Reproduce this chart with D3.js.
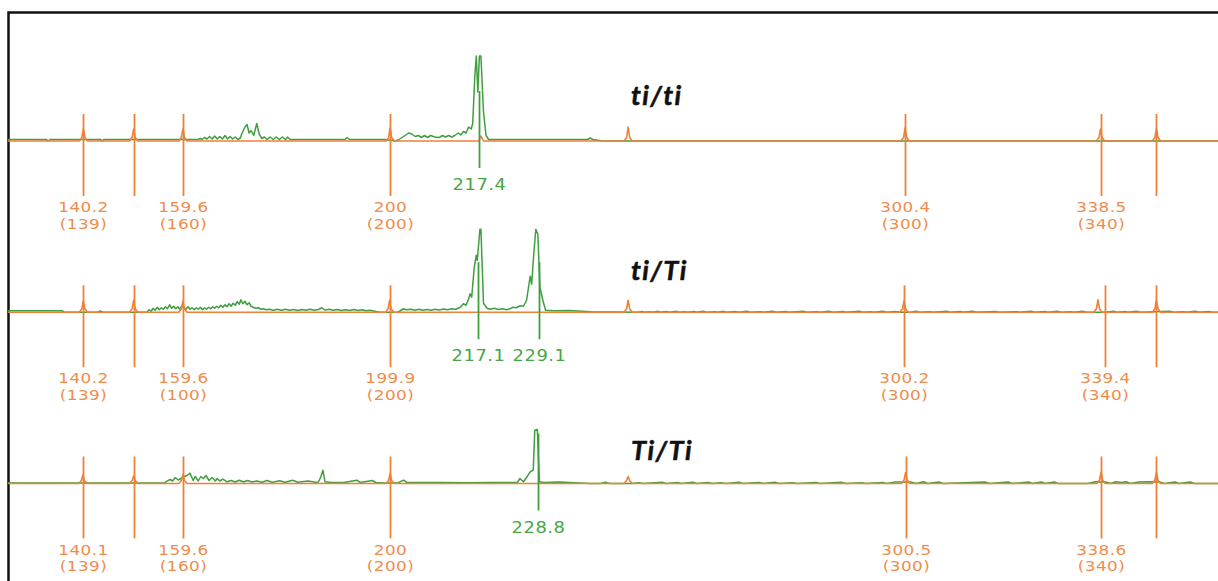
<!DOCTYPE html>
<html><head><meta charset="utf-8">
<script src="https://cdn.jsdelivr.net/npm/d3@7"></script>
<style>body{margin:0;background:#fff;} svg{display:block}</style>
</head><body>
<svg id="chart" width="1218" height="581"></svg>
<script>
// ---------- data ----------
const genotypes = ["ti/ti", "ti/Ti", "Ti/Ti"];

// size-standard (orange) peaks: called size and nominal size (null = unlabeled)
const ladderSizes1 = [140.2, 150, 159.6, 200, 300.4, 338.5, 349.4];
const ladderNominal1 = ["139", null, "160", "200", "300", "340", null];
const ladderSizes2 = [140.2, 150, 159.6, 199.9, 300.2, 339.4, 349.4];
const ladderNominal2 = ["139", null, "100", "200", "300", "340", null];
const ladderSizes3 = [140.1, 150, 159.6, 200, 300.5, 338.6, 349.4];
const ladderNominal3 = ["139", null, "160", "200", "300", "340", null];

// called sample (green) peaks
const calledSizes1 = [217.4];
const calledSizes2 = [217.1, 229.1];
const calledSizes3 = [228.8];

// green (sample) traces: [size bp, RFU]
const green1 = [[125.5,15],[133,15],[133.3,0],[133.7,15],[143.6,15],[143.9,0],[144.2,15],[162.5,15],
 [163,25],[163.3,15],[163.8,35],[164.3,20],[164.8,45],[165.3,20],[165.8,50],[166.3,20],[166.8,45],[167.3,20],
 [167.8,55],[168.3,20],[168.8,45],[169.3,20],[169.8,40],[170.3,15],[170.8,30],[171.1,75],[171.7,140],[172.1,165],
 [172.5,80],[172.9,105],[173.4,55],[174.0,175],[174.5,65],[175.0,25],[175.5,40],[176,15],[176.6,40],[177.2,15],
 [177.8,40],[178.4,15],[179,40],[179.6,15],[180.0,40],[180.5,15],[191.2,15],[191.6,35],[192.1,15],[199,15],
 [201,0],[201.6,10],[202.6,45],[203.6,80],[204.2,70],[204.9,45],[205.5,55],[206.1,35],[206.7,55],[207.3,35],
 [207.9,55],[208.7,40],[209.6,35],[210.2,55],[210.8,40],[211.4,55],[212,40],[212.6,55],[213.3,80],[213.8,60],
 [214.3,95],[214.8,80],[215.3,140],[215.8,120],[216.1,175],[216.5,640],[216.8,850],[217.1,490],[217.4,850],
 [217.7,850],[218.2,290],[218.7,55],[219.2,15],[230,15],[238.5,15],[239,30],[239.5,15],[241.5,0],[361.5,0]];

const green2 = [[125.5,15],[136,15],[136.5,0],[143,0],[143.5,12],[144,0],[152.5,0],
 [153,25],[153.4,10],[153.8,40],[154.2,20],[154.6,50],[155,25],[155.4,45],[155.8,30],[156.2,55],[156.6,35],
 [157,75],[157.4,40],[157.8,60],[158.2,35],[158.6,55],[159,30],[159.4,60],[159.8,45],[160.2,30],[160.6,55],
 [161,30],[161.4,45],[161.8,25],[162.2,45],[162.6,30],[163,50],[163.4,25],[163.8,45],[164.2,30],[164.6,50],
 [165,35],[165.4,55],[165.8,40],[166.2,60],[166.6,45],[167,70],[167.4,50],[167.8,75],[168.2,55],[168.6,85],
 [169,60],[169.4,90],[169.8,70],[170.2,105],[170.6,80],[170.9,125],[171.3,85],[171.7,110],[172.1,75],[172.5,95],
 [172.9,60],[173.3,50],[173.8,40],[174.3,45],[174.8,30],[175.3,35],[175.8,25],[176.5,30],[177.2,20],[178,30],
 [178.8,20],[179.6,30],[180.4,20],[181.2,28],[182,18],[182.8,28],[183.6,20],[184.4,30],[185.2,20],[186,28],
 [186.7,45],[187.3,22],[188.1,30],[188.9,20],[189.7,28],[190.5,18],[191.3,25],[192.1,18],[192.9,28],[193.7,18],
 [194.5,25],[195.3,15],[196.1,20],[197,10],[198,0],[201.5,0],[202,15],[202.6,35],[203.2,25],[204,30],[204.8,20],
 [205.6,30],[206.4,20],[207.2,28],[208,20],[208.8,30],[209.6,22],[210.4,32],[211.2,25],[212,35],[212.8,30],
 [213.7,50],[214.3,85],[214.8,70],[215.3,135],[215.6,185],[215.9,150],[216.4,450],[216.8,570],[217.0,520],
 [217.5,830],[217.7,830],[218.2,90],[218.9,40],[219.5,30],[220.3,40],[221.1,28],[221.9,35],[222.7,25],[223.5,38],
 [223.9,50],[224.6,45],[225.3,65],[226,60],[226.6,120],[227.3,360],[227.6,280],[228.0,580],[228.4,830],[228.8,780],
 [229.2,250],[229.8,115],[230.3,20],[232,15],[235,18],[239,5],
 [248.5,0],[249,9],[249.6,0],[250.5,6],[251.2,0],[252.2,9],[252.8,0],[253.8,7],[254.5,0],[255.9,9],[256.3,0],
 [257.4,6],[258,0],[259.3,8],[259.8,0],[261,9],[261.7,0],[263.4,6],[263.8,0],[265,9],[265.6,0],[267.2,7],[268,0],
 [269.5,9],[270.2,0],[272.3,6],[272.8,0],[274.5,9],[275.3,0],[277.1,7],[277.8,0],[280.5,9],[281.3,0],[283.2,6],
 [283.8,0],[285.5,9],[286.4,0],[288.3,7],[288.8,0],[291.5,9],[292.2,0],[293.7,6],[294.3,0],[296,9],[296.8,0],
 [298.5,7],[299.5,0],[301.5,0],[302.5,9],[303.2,0],[305.3,6],[305.8,0],[308.5,9],[309.2,0],[311.2,7],[311.7,0],
 [313.5,9],[314.4,0],[318,8],[318.8,0],[322.2,6],[322.7,0],[325,9],[325.7,0],[327.7,7],[328.2,0],[330,9],
 [330.8,0],[332.7,6],[333.3,0],[335,9],[335.8,0],[339.5,0],[341,9],[341.7,0],[343.3,7],[343.8,0],[345.5,9],
 [346.3,0],[352,9],[352.8,0],[354.7,6],[355.2,0],[357,9],[357.8,0],[359.6,7],[360.2,0],[361.5,0]];

const green3 = [[125.5,5],[156,5],[156.5,23],[157.1,40],[157.6,25],[158.1,60],[158.7,35],[159.2,50],[159.7,65],
 [160.4,80],[161.0,103],[161.6,30],[162.0,70],[162.6,25],[163.1,70],[163.6,50],[164.1,80],[164.7,30],[165.3,60],
 [165.9,25],[166.3,50],[166.8,25],[167.4,43],[168.2,17],[169,30],[169.8,15],[170.6,33],[171.4,15],[172.2,30],
 [173,15],[174,25],[175,12],[176,30],[177,12],[178.5,28],[179.5,12],[181,33],[182,12],[184,25],[185.5,12],
 [186,15],[186.5,67],[186.9,133],[187.3,17],[188.5,10],[191,10],[193.5,33],[194.2,10],[196.5,30],[197.2,10],
 [199,5],[201.5,5],[202.6,33],[203.3,10],[210,10],[215,8],[220,10],[224.8,10],[225.3,50],[226,18],[226.6,60],
 [227.3,116],[227.9,133],[228.2,533],[228.7,540],[229.1,17],[230,10],[233,15],[235,10],[239,0],
 [241,0],[242,12],[242.8,0],[247,0],[248.5,8],[249.5,0],[253,12],[253.8,0],[256,10],[256.8,0],[259,12],[259.8,0],
 [262,10],[262.8,0],[264.5,8],[265.5,0],[268,12],[268.8,0],[272,10],[272.8,0],[275,12],[275.8,0],[278.5,8],
 [279.3,0],[283,10],[283.8,0],[288,12],[288.8,0],[292,8],[292.8,0],[296,10],[296.8,0],[298.5,15],[301.5,15],
 [302.5,0],[304,18],[304.8,0],[307,15],[307.8,0],[316,15],[316.8,0],[320.5,15],[321.2,0],[324.5,15],[325.2,0],
 [327,15],[327.7,0],[329.5,15],[330.2,0],[336,0],[337.5,18],[339.5,15],[340.5,0],[341.5,18],[342.5,10],
 [343.5,18],[344.3,0],[346,15],[348,18],[350,15],[351,0],[353,15],[353.8,0],[356,15],[356.8,0],[361.5,0]];

// orange (size standard) traces: [size bp, RFU]
const orange1 = [[125.5,0],[139.4,0],[139.9,35],[140.2,120],[140.5,35],[141,0],[149.2,0],[149.7,35],[150,120],
 [150.3,35],[150.8,0],[158.8,0],[159.3,35],[159.6,120],[159.9,35],[160.4,0],[199.2,0],[199.7,35],[200,130],
 [200.3,35],[200.8,0],[217.3,0],[217.7,50],[218.2,0],[245.6,0],[246.1,35],[246.4,140],[246.7,35],[247.2,0],
 [299.6,0],[300.1,35],[300.4,130],[300.7,35],[301.2,0],[337.7,0],[338.2,35],[338.5,120],[338.8,35],[339.3,0],
 [348.6,0],[349.1,35],[349.4,125],[349.7,35],[350.2,0],[361.5,0]];
const orange2 = [[125.5,0],[139.4,0],[139.9,35],[140.2,110],[140.5,35],[141,0],[149.2,0],[149.7,35],[150,120],
 [150.3,35],[150.8,0],[158.8,0],[159.3,35],[159.6,110],[159.9,35],[160.4,0],[199.1,0],[199.6,35],[199.9,120],
 [200.2,35],[200.7,0],[245.6,0],[246.1,35],[246.4,120],[246.7,35],[247.2,0],[299.4,0],[299.9,35],[300.2,115],
 [300.5,35],[301,0],[337.2,0],[337.7,35],[338.0,125],[338.3,35],[338.8,0],[348.6,0],[349.1,35],[349.4,120],
 [349.7,35],[350.2,0],[361.5,0]];
const orange3 = [[125.5,0],[139.3,0],[139.8,30],[140.1,85],[140.4,30],[140.9,0],[149.2,0],[149.7,30],[150,75],
 [150.3,30],[150.8,0],[158.8,0],[159.3,30],[159.6,90],[159.9,30],[160.4,0],[199.2,0],[199.7,30],[200,100],
 [200.3,30],[200.8,0],[245.6,0],[246.1,30],[246.4,70],[246.7,30],[247.2,0],[299.7,0],[300.2,35],[300.5,110],
 [300.8,35],[301.3,0],[337.8,0],[338.3,35],[338.6,115],[338.9,35],[339.4,0],[348.6,0],[349.1,35],[349.4,110],
 [349.7,35],[350.2,0],[361.5,0]];

// ---------- build ----------
const panels = [
  {title: genotypes[0], green: green1, orange: orange1, ladder: ladderSizes1, nominal: ladderNominal1, called: calledSizes1},
  {title: genotypes[1], green: green2, orange: orange2, ladder: ladderSizes2, nominal: ladderNominal2, called: calledSizes2},
  {title: genotypes[2], green: green3, orange: orange3, ladder: ladderSizes3, nominal: ladderNominal3, called: calledSizes3}
];
const titleOffsets = [-36, -32.5, -24];   // layout only

const ORANGE = "#ee8136", ORANGE_TXT = "#ef8c4c", GREEN = "#3f9f3f", GREEN_TXT = "#45a645";
const svg = d3.select("#chart");

const x = d3.scaleLinear().domain([125.5, 361.4]).range([8, 1218]);
const yBase = d3.scaleLinear().domain([0, 2]).range([141, 483.5]);
const yRfu = d3.scaleLinear().domain([0, 1000]).range([0, -100]);

// frame
svg.append("rect").attr("x", 8.5).attr("y", 12.5).attr("width", 1400).attr("height", 800)
  .attr("fill", "none").attr("stroke", "#111").attr("stroke-width", 2.5);

panels.forEach((p, i) => {
  const b = yBase(i);
  const g = svg.append("g");
  const line = d3.line().x(d => x(d[0])).y(d => b + yRfu(d[1]));

  g.append("path").datum(p.green).attr("d", line)
    .attr("fill", "none").attr("stroke", GREEN).attr("stroke-width", 1.5).attr("stroke-linejoin", "round");
  g.append("path").datum(p.orange).attr("d", line)
    .attr("fill", "none").attr("stroke", ORANGE).attr("stroke-width", 1.6).attr("stroke-linejoin", "round");

  // ladder tick lines + labels
  p.ladder.forEach((s, k) => {
    const xx = Math.round(x(s)) + 0.5;
    g.append("line").attr("x1", xx).attr("x2", xx).attr("y1", b - 27).attr("y2", b + 55)
      .attr("stroke", ORANGE).attr("stroke-width", 1.8);
    if (p.nominal[k] !== null) {
      const common = t => t.attr("text-anchor", "middle").attr("font-family", "DejaVu Sans")
        .attr("font-size", 14.5).attr("letter-spacing", "0.4px").attr("fill", ORANGE_TXT);
      g.append("text").call(common).attr("transform", `translate(${xx},${b + 71}) scale(1.16,1)`).text(String(s));
      g.append("text").call(common).attr("transform", `translate(${xx},${b + 87.5}) scale(1.16,1)`).text("(" + p.nominal[k] + ")");
    }
  });

  // called sample peaks
  p.called.forEach(s => {
    const xx = Math.round(x(s)) + 0.5;
    g.append("line").attr("x1", xx).attr("x2", xx).attr("y1", b - 50).attr("y2", b + 27)
      .attr("stroke", GREEN).attr("stroke-width", 1.8);
    g.append("text").attr("transform", `translate(${xx},${b + 49}) scale(1.12,1)`).attr("text-anchor", "middle")
      .attr("font-family", "DejaVu Sans").attr("font-size", 16).attr("letter-spacing", "0.5px")
      .attr("fill", GREEN_TXT).text(String(s));
  });

  // genotype title
  g.append("text").attr("x", 631).attr("y", b + titleOffsets[i])
    .attr("font-family", "Lato").attr("font-weight", 700).attr("font-style", "italic")
    .attr("font-size", 27).attr("letter-spacing", "1.4px")
    .attr("fill", "#111").attr("stroke", "#111").attr("stroke-width", 0.5).text(p.title);
});
</script>
</body></html>
